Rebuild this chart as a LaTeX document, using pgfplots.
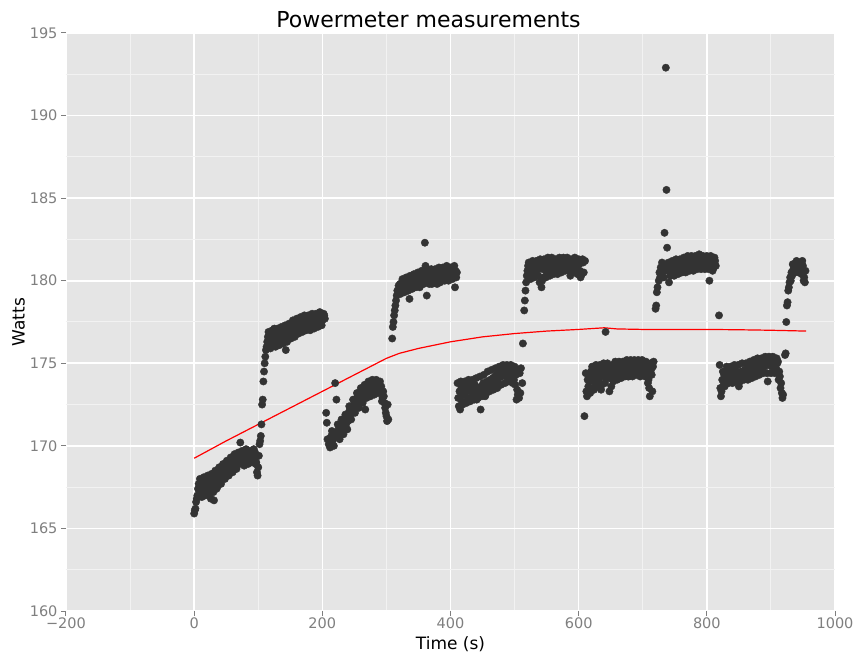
\documentclass[border=0pt]{standalone}
\usepackage{fontspec}
\setmainfont{DejaVu Sans}
\usepackage{pgfplots}
\pgfplotsset{compat=1.18}
\definecolor{panel}{HTML}{E5E5E5}
\definecolor{dotcol}{HTML}{333333}
\definecolor{tickgray}{HTML}{7F7F7F}
\definecolor{minorgrid}{HTML}{F2F2F2}
\begin{document}
\begin{tikzpicture}
\begin{axis}[
  scale only axis, width=769bp, height=578bp,
  xmin=-200, xmax=1000, ymin=160, ymax=195,
  axis background/.style={fill=panel},
  axis line style={draw=none},
  xtick={-200,0,200,400,600,800,1000},
  xticklabels={−200,0,200,400,600,800,1000},
  ytick={160,165,170,175,180,185,190,195},
  yticklabels={160,165,170,175,180,185,190,195},
  minor x tick num=1, minor y tick num=1,
  grid=both,
  major grid style={white, line width=1.6bp},
  minor grid style={minorgrid, line width=1bp},
  tick pos=left, tick align=outside,
  major tick length=5bp, minor tick length=0bp,
  tick style={tickgray, line width=1bp},
  ticklabel style={font=\fontsize{14.5bp}{16bp}\selectfont, text=tickgray},
  xticklabel style={yshift=2bp},
  title={Powermeter measurements},
  title style={font=\fontsize{22bp}{25bp}\selectfont, yshift=-4bp, xshift=-22bp},
  xlabel={Time (s)}, ylabel={Watts},
  label style={font=\fontsize{17bp}{20bp}\selectfont},
  xlabel style={yshift=-1bp},
  ylabel style={yshift=-2bp},
]
\addplot[only marks, mark=*, mark size=3.7bp, color=dotcol] table[row sep=\\] {
x y\\
0 165.9\\ 1 166.1\\ 2 166.2\\ 3 166.6\\ 5 167.0\\ 6 167.4\\ 7 167.7\\ 8 167.3\\ 10 167.6\\ 11 167.2\\
13 167.5\\ 14 167.8\\ 16 167.4\\ 17 167.6\\ 19 167.3\\ 20 167.7\\ 22 167.5\\ 23 167.9\\ 25 167.4\\ 26 166.8\\
28 167.6\\ 29 167.9\\ 31 166.7\\ 32 168.1\\ 34 167.7\\ 35 167.4\\ 37 167.9\\ 38 168.2\\ 40 168.0\\ 41 167.8\\
43 168.4\\ 44 168.1\\ 46 168.6\\ 47 168.3\\ 49 168.5\\ 50 168.7\\ 52 168.4\\ 53 168.8\\ 55 168.6\\ 56 168.9\\
58 169.0\\ 59 168.7\\ 61 168.9\\ 62 169.1\\ 64 168.8\\ 65 169.2\\ 67 169.0\\ 68 169.3\\ 70 169.1\\ 71 168.9\\
72 170.2\\ 73 169.2\\ 74 169.4\\ 76 169.0\\ 77 169.3\\ 79 169.1\\ 80 169.4\\ 82 169.2\\ 83 169.5\\ 85 169.3\\
86 169.1\\ 88 169.4\\ 89 169.6\\ 91 169.3\\ 92 169.5\\ 94 169.2\\ 95 169.6\\ 97 169.0\\ 98 168.4\\ 100 168.7\\
101 169.4\\ 102 170.1\\ 103 170.3\\ 104 170.6\\ 105 171.3\\ 106 172.5\\ 107 172.8\\ 108 173.9\\ 109 174.5\\ 110 175.0\\
111 175.4\\ 112 175.8\\ 113 176.0\\
114 176.3\\ 115 176.6\\ 117 176.1\\ 118 176.8\\ 120 176.4\\ 121 176.0\\ 123 176.5\\ 124 176.9\\ 125 177.1\\ 126 176.3\\
128 176.6\\ 129 176.2\\ 131 176.7\\ 132 176.4\\ 134 176.8\\ 135 176.5\\ 137 176.3\\ 138 176.9\\ 140 176.6\\ 141 176.4\\
143 175.8\\ 144 176.8\\ 146 177.0\\ 147 176.6\\ 149 176.9\\ 150 177.2\\ 152 176.8\\ 153 177.1\\ 155 176.9\\ 156 177.3\\
158 177.0\\ 159 177.2\\ 161 177.4\\ 162 177.1\\ 164 177.3\\ 165 176.9\\ 167 177.2\\ 168 177.5\\ 170 177.3\\ 171 177.0\\
173 177.4\\ 174 177.6\\ 176 177.2\\ 177 177.5\\ 179 177.3\\ 180 177.1\\ 182 177.6\\ 183 177.4\\ 185 177.2\\ 186 177.7\\
188 177.5\\ 189 177.3\\ 191 177.6\\ 192 177.8\\ 194 177.4\\ 195 177.7\\ 197 177.5\\ 198 177.9\\ 200 177.6\\ 201 177.8\\
203 177.9\\ 204 177.7\\
206 172.0\\ 207 171.4\\ 208 170.4\\ 210 170.1\\ 211 170.4\\ 213 170.2\\ 214 170.6\\ 216 170.3\\ 217 170.7\\ 219 170.5\\
220 173.8\\ 221 170.8\\ 222 172.8\\ 223 170.6\\ 225 170.9\\ 226 171.1\\ 228 170.8\\ 229 171.2\\ 231 171.0\\ 232 171.4\\
234 171.2\\ 235 171.5\\ 237 171.3\\ 238 171.7\\ 240 171.5\\ 241 172.0\\ 243 172.2\\ 244 171.9\\ 246 172.3\\ 247 172.1\\
249 172.5\\ 250 172.8\\ 252 172.4\\ 253 172.7\\ 255 173.0\\ 256 172.6\\ 258 172.9\\ 259 172.9\\ 261 173.1\\ 262 172.8\\
264 173.2\\ 265 173.4\\ 267 172.2\\ 268 173.3\\ 270 173.5\\ 271 173.2\\ 273 173.6\\ 274 173.4\\ 276 173.3\\ 277 173.6\\
279 173.7\\ 280 173.4\\ 282 173.5\\ 283 173.8\\ 285 173.6\\ 286 173.3\\ 288 173.7\\ 289 173.5\\ 291 173.2\\ 292 173.6\\
294 172.9\\ 295 173.3\\ 296 173.0\\ 297 172.6\\ 298 172.3\\ 299 172.0\\ 300 171.8\\ 301 171.5\\ 302 172.5\\
309 176.5\\ 310 177.2\\ 311 177.5\\ 312 177.9\\ 313 178.2\\ 314 178.5\\ 315 178.8\\ 316 179.1\\ 317 179.4\\ 319 179.7\\
320 179.4\\ 321 179.8\\ 323 179.6\\ 324 179.9\\ 326 179.5\\ 327 179.8\\ 329 180.0\\ 330 179.7\\ 332 179.9\\ 333 179.4\\
335 179.8\\ 336 178.9\\ 338 179.9\\ 339 180.1\\ 341 179.7\\ 342 180.0\\ 344 179.8\\ 345 180.1\\ 347 179.9\\ 348 180.2\\
350 179.9\\ 351 179.7\\ 353 180.1\\ 354 179.9\\ 356 180.2\\ 357 180.0\\ 359 180.3\\ 360 182.3\\ 361 180.9\\ 362 180.0\\
363 179.1\\ 365 180.2\\ 366 180.0\\ 368 180.3\\ 369 180.1\\ 371 179.8\\ 372 180.2\\ 374 180.0\\ 375 180.4\\ 377 180.1\\
378 180.3\\ 380 180.0\\ 381 180.4\\ 383 180.2\\ 384 179.9\\ 386 180.3\\ 387 180.5\\ 389 180.1\\ 390 180.4\\ 392 180.2\\
393 180.6\\ 395 180.3\\ 396 180.1\\ 398 180.5\\ 399 180.3\\ 401 180.6\\ 402 180.2\\ 404 180.5\\ 405 180.4\\ 407 179.6\\
408 180.6\\ 410 180.5\\
411 173.8\\ 412 172.9\\ 413 172.4\\ 414 173.3\\ 415 172.2\\ 417 173.5\\ 418 172.7\\ 420 173.1\\ 421 173.6\\ 423 173.2\\
424 173.7\\ 426 173.4\\ 427 172.9\\ 429 173.5\\ 430 173.8\\ 432 173.3\\ 433 173.6\\ 435 173.1\\ 436 173.4\\ 438 173.7\\
439 173.2\\ 441 172.8\\ 442 173.5\\ 444 173.0\\ 445 173.3\\ 447 172.2\\ 448 173.6\\ 450 173.2\\ 451 173.8\\ 453 173.4\\
454 173.0\\ 456 173.6\\ 457 173.9\\ 459 173.4\\ 460 173.7\\ 462 174.0\\ 463 173.6\\ 465 173.9\\ 466 174.1\\ 468 173.7\\
469 174.2\\ 471 173.9\\ 472 174.3\\ 474 174.0\\ 475 174.4\\ 477 174.2\\ 478 174.5\\ 480 174.2\\ 481 174.6\\ 483 174.3\\
484 174.7\\ 486 174.4\\ 487 174.6\\ 489 174.1\\ 490 174.5\\ 492 174.3\\ 493 174.7\\ 495 174.4\\ 496 174.2\\ 498 174.5\\
499 174.0\\ 501 173.7\\ 502 174.3\\ 504 173.4\\ 505 173.1\\ 507 172.9\\ 508 174.4\\ 510 174.7\\ 512 173.8\\
513 176.2\\ 515 178.2\\ 516 178.8\\ 517 179.4\\ 518 179.9\\ 519 180.3\\
520 180.6\\ 521 180.9\\ 523 180.4\\ 524 180.7\\ 526 180.9\\ 527 180.5\\ 529 180.8\\ 530 181.0\\ 532 180.6\\ 533 180.3\\
535 180.8\\ 536 181.0\\ 538 180.7\\ 539 179.9\\ 541 180.9\\ 542 179.6\\ 544 180.7\\ 545 180.2\\ 547 181.0\\ 548 180.8\\
550 180.5\\ 551 181.1\\ 553 180.8\\ 554 180.6\\ 556 181.0\\ 557 180.7\\ 559 180.9\\ 560 181.1\\ 562 180.8\\ 563 180.5\\
565 181.0\\ 566 181.2\\ 568 180.9\\ 569 180.7\\ 571 181.1\\ 572 180.8\\ 574 181.0\\ 575 181.2\\ 577 180.9\\ 578 181.1\\
580 180.8\\ 581 181.0\\ 583 181.2\\ 584 180.9\\ 586 181.1\\ 587 180.3\\ 589 181.0\\ 590 180.5\\ 592 181.2\\ 593 181.0\\
595 180.9\\ 596 181.1\\ 598 180.4\\ 599 181.2\\ 601 181.0\\ 602 180.6\\ 604 181.1\\ 605 180.4\\ 607 181.1\\ 608 180.5\\
610 181.2\\
609 171.8\\ 611 174.4\\ 612 173.3\\ 613 173.0\\ 614 174.0\\ 615 173.6\\ 616 174.3\\ 617 173.9\\ 619 174.5\\ 620 174.1\\
622 173.5\\ 623 174.4\\ 625 174.2\\ 626 173.8\\ 628 174.6\\ 629 174.3\\ 631 174.0\\ 632 174.5\\ 634 174.2\\ 635 173.4\\
637 174.4\\ 638 174.7\\ 640 174.2\\ 642 176.9\\ 643 174.5\\ 644 174.8\\ 646 174.4\\ 647 174.1\\ 648 173.3\\ 649 174.6\\
650 174.3\\ 651 173.6\\ 652 174.7\\ 653 174.9\\ 655 174.5\\ 656 174.2\\ 658 174.7\\ 659 174.4\\ 661 174.8\\ 662 174.6\\
664 174.3\\ 665 174.9\\ 667 174.5\\ 668 174.7\\ 670 174.4\\ 671 174.8\\ 673 174.6\\ 674 174.9\\ 676 174.5\\ 677 174.2\\
679 174.7\\ 680 174.9\\ 682 174.5\\ 683 174.8\\ 685 174.6\\ 686 174.3\\ 688 174.9\\ 689 174.6\\ 691 174.8\\ 692 174.5\\
694 174.9\\ 695 174.7\\ 697 174.4\\ 698 174.8\\ 700 174.6\\ 701 174.9\\ 703 174.5\\ 704 174.2\\ 706 174.7\\ 707 174.4\\
709 174.0\\ 710 173.5\\ 711 173.0\\ 712 175.0\\ 713 174.6\\ 714 174.3\\ 716 174.8\\ 717 175.1\\
720 178.3\\ 721 178.5\\ 722 179.3\\ 723 179.6\\ 725 180.0\\ 726 180.5\\ 728 180.8\\ 729 180.4\\ 731 180.7\\ 732 180.9\\
734 182.9\\ 735 180.6\\ 736 192.9\\ 737 185.5\\ 738 182.0\\ 739 180.8\\ 741 179.9\\ 742 180.7\\ 744 180.5\\ 745 180.9\\
747 180.6\\ 748 181.0\\ 750 180.7\\ 751 180.4\\ 753 180.9\\ 754 181.1\\ 756 180.6\\ 757 180.8\\ 759 181.0\\ 760 180.5\\
762 180.9\\ 763 181.2\\ 765 180.8\\ 766 181.0\\ 768 180.7\\ 769 181.1\\ 771 180.9\\ 772 181.3\\ 774 180.8\\ 775 181.0\\
777 181.2\\ 778 180.9\\ 780 181.1\\ 781 181.3\\ 783 181.0\\ 784 181.2\\ 786 180.9\\ 787 181.4\\ 789 181.1\\ 790 181.3\\
792 181.0\\ 793 181.2\\ 795 181.4\\ 796 181.0\\ 798 181.3\\ 799 181.1\\ 801 180.8\\ 802 181.3\\ 804 180.0\\ 805 181.2\\
807 180.9\\ 808 181.4\\ 810 181.1\\ 811 180.8\\ 813 181.2\\ 819 177.9\\
820 174.9\\ 821 173.5\\ 822 173.0\\ 823 173.3\\ 824 174.0\\ 826 173.7\\ 827 174.3\\ 829 174.0\\ 830 174.5\\ 832 174.2\\
833 174.6\\ 835 174.3\\ 836 173.9\\ 838 174.4\\ 839 174.1\\ 841 174.5\\ 842 174.2\\ 844 174.6\\ 845 174.0\\ 847 174.4\\
848 174.1\\ 850 173.6\\ 851 174.3\\ 853 174.5\\ 854 174.1\\ 856 174.4\\ 857 174.2\\ 859 174.6\\ 860 174.3\\ 862 174.5\\
863 174.2\\ 865 174.7\\ 866 174.4\\ 868 174.6\\ 869 174.3\\ 871 174.8\\ 872 174.5\\ 874 174.7\\ 875 174.4\\ 877 174.9\\
878 174.6\\ 880 174.8\\ 881 175.0\\ 883 174.6\\ 884 174.9\\ 886 175.1\\ 887 174.7\\ 889 175.0\\ 890 174.8\\ 892 175.1\\
893 174.9\\ 895 173.9\\ 896 175.2\\ 898 174.9\\ 899 175.1\\ 901 174.8\\ 902 175.0\\ 904 175.2\\ 905 174.9\\ 907 175.1\\
908 174.7\\ 910 175.0\\ 911 175.1\\ 913 174.5\\ 914 174.2\\ 916 173.8\\ 917 173.2\\ 918 172.9\\ 919 173.1\\
922 175.5\\ 923 175.6\\ 924 177.5\\ 925 178.5\\ 926 178.7\\ 927 179.4\\ 928 179.6\\ 929 179.9\\ 930 180.2\\ 932 180.5\\
933 180.3\\ 935 180.7\\ 936 180.9\\ 938 181.0\\ 939 180.8\\ 941 181.1\\ 942 180.9\\ 944 181.0\\ 945 180.6\\ 947 181.1\\
948 180.4\\ 950 180.9\\ 951 180.0\\ 953 179.9\\ 954 180.6\\
4 166.8\\ 9 168.0\\ 12 166.9\\ 15 168.1\\ 18 167.0\\ 21 168.2\\ 24 167.1\\ 27 168.3\\ 30 167.2\\ 33 168.5\\
36 167.5\\ 39 168.7\\ 42 167.7\\ 45 168.9\\ 48 168.0\\ 51 169.1\\ 54 168.2\\ 57 169.3\\ 60 168.4\\ 63 169.5\\
66 168.6\\ 69 169.6\\ 75 169.7\\ 78 168.8\\ 81 169.8\\ 84 168.9\\ 87 169.7\\ 90 169.0\\ 93 169.8\\ 96 168.9\\ 99 168.2\\
116 176.9\\ 119 175.9\\ 122 177.0\\ 127 176.0\\ 130 177.1\\ 133 176.1\\ 136 177.2\\ 139 176.2\\ 142 177.3\\ 145 176.3\\
148 177.4\\ 151 176.5\\ 154 177.6\\ 157 176.6\\ 160 177.7\\ 163 176.8\\ 166 177.8\\ 169 176.9\\ 172 177.9\\ 175 177.0\\
178 177.9\\ 181 177.0\\ 184 178.0\\ 187 177.1\\ 190 178.0\\ 193 177.2\\ 196 178.1\\ 199 177.3\\ 202 178.0\\
212 169.9\\ 215 170.9\\ 218 170.0\\ 224 171.3\\ 227 170.4\\ 230 171.6\\ 233 170.7\\ 236 171.9\\ 239 171.0\\ 242 172.4\\
245 171.6\\ 248 172.8\\ 251 172.0\\ 254 173.2\\ 257 172.3\\ 260 173.5\\ 263 172.6\\ 266 173.7\\ 269 172.9\\ 272 173.9\\
275 173.0\\ 278 174.0\\ 281 173.1\\ 284 174.0\\ 287 173.2\\ 290 173.9\\ 293 172.7\\ 303 171.6\\
322 179.2\\ 325 180.1\\ 328 179.3\\ 331 180.2\\ 334 179.4\\ 337 180.3\\ 340 179.5\\ 343 180.4\\ 346 179.6\\ 349 180.5\\
352 179.6\\ 355 180.6\\ 358 179.8\\ 364 180.6\\ 367 179.8\\ 370 180.7\\ 373 179.9\\ 376 180.7\\ 379 179.8\\ 382 180.8\\
385 180.0\\ 388 180.8\\ 391 180.0\\ 394 180.9\\ 397 180.0\\ 400 180.8\\ 403 180.1\\ 406 180.9\\ 409 180.2\\
416 173.9\\ 419 172.5\\ 422 173.9\\ 425 172.6\\ 428 174.0\\ 431 172.7\\ 434 174.0\\ 437 172.8\\ 440 174.1\\ 443 172.9\\
446 174.2\\ 449 173.0\\ 452 174.3\\ 455 173.1\\ 458 174.5\\ 461 173.3\\ 464 174.6\\ 467 173.4\\ 470 174.7\\ 473 173.5\\
476 174.8\\ 479 173.7\\ 482 174.9\\ 485 173.8\\ 488 174.9\\ 491 173.9\\ 494 174.9\\ 497 173.8\\ 500 174.8\\ 503 172.8\\
506 174.6\\ 509 173.2\\
522 181.1\\ 525 180.1\\ 528 181.2\\ 531 180.2\\ 534 181.2\\ 537 180.3\\ 540 181.3\\ 543 180.0\\ 546 181.3\\ 549 180.2\\
552 181.4\\ 555 180.3\\ 558 181.4\\ 561 180.4\\ 564 181.3\\ 567 180.4\\ 570 181.4\\ 573 180.5\\ 576 181.4\\ 579 180.6\\
582 181.4\\ 585 180.6\\ 588 181.3\\ 591 180.7\\ 594 181.4\\ 597 180.6\\ 600 181.3\\ 603 180.2\\ 606 181.3\\
618 173.2\\ 621 174.8\\ 624 173.4\\ 627 174.9\\ 630 173.6\\ 633 174.9\\ 636 173.7\\ 639 175.0\\ 641 173.8\\ 645 175.0\\
654 173.9\\ 657 175.1\\ 660 174.0\\ 663 175.1\\ 666 174.1\\ 669 175.1\\ 672 174.2\\ 675 175.2\\ 678 174.2\\ 681 175.2\\
684 174.2\\ 687 175.2\\ 690 174.3\\ 693 175.2\\ 696 174.2\\ 699 175.2\\ 702 174.3\\ 705 175.1\\ 708 173.8\\ 715 173.3\\
727 180.2\\ 730 181.1\\ 733 180.2\\ 740 181.1\\ 743 180.3\\ 746 181.2\\ 749 180.3\\ 752 181.3\\ 755 180.4\\ 758 181.3\\
761 180.5\\ 764 181.4\\ 767 180.5\\ 770 181.5\\ 773 180.6\\ 776 181.5\\ 779 180.6\\ 782 181.5\\ 785 180.7\\ 788 181.6\\
791 180.7\\ 794 181.5\\ 797 180.7\\ 800 181.5\\ 803 180.7\\ 806 181.5\\ 809 180.6\\ 812 181.4\\ 814 180.9\\
825 174.5\\ 828 173.6\\ 831 174.8\\ 834 173.8\\ 837 174.8\\ 840 173.8\\ 843 174.9\\ 846 173.9\\ 849 174.9\\ 852 173.9\\
855 175.0\\ 858 174.0\\ 861 175.0\\ 864 174.0\\ 867 175.1\\ 870 174.1\\ 873 175.2\\ 876 174.2\\ 879 175.3\\ 882 174.3\\
885 175.3\\ 888 174.4\\ 891 175.4\\ 894 174.4\\ 897 175.4\\ 900 174.4\\ 903 175.4\\ 906 174.4\\ 909 175.3\\ 912 174.0\\
915 173.5\\
931 180.0\\ 934 181.0\\ 937 180.5\\ 940 181.2\\ 943 180.5\\ 946 180.8\\ 949 181.2\\ 952 180.2\\
};
\addplot[red, line width=1.2bp, no marks] table[row sep=\\] {
x y\\
0 169.25\\ 50 170.3\\ 100 171.3\\ 150 172.3\\ 200 173.3\\ 250 174.3\\ 300 175.3\\ 320 175.6\\ 350 175.9\\
400 176.3\\ 450 176.6\\ 500 176.8\\ 550 176.95\\ 600 177.05\\ 640 177.15\\ 660 177.08\\ 700 177.05\\
750 177.05\\ 800 177.05\\ 850 177.03\\ 900 177.0\\ 955 176.95\\
};
\end{axis}
\pgfresetboundingbox
\path ([shift={(-66bp,-46bp)}]current axis.south west) rectangle ([shift={(25bp,33bp)}]current axis.north east);
\end{tikzpicture}
\end{document}
